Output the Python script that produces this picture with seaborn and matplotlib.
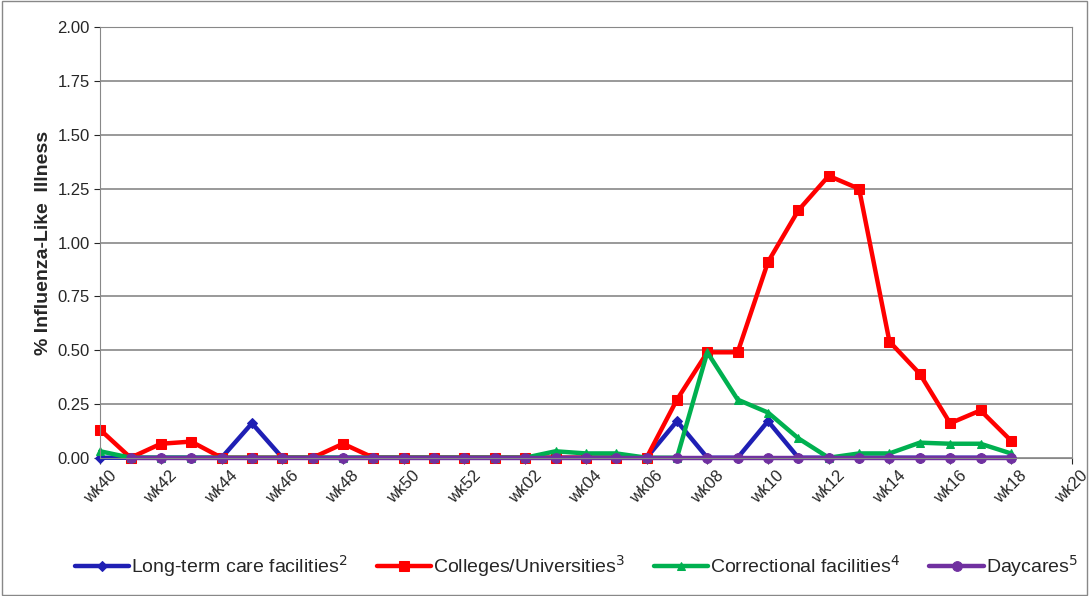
import numpy as np
import pandas as pd
import matplotlib
matplotlib.use("Agg")
import matplotlib.pyplot as plt
import seaborn as sns

weeks = [f"wk{w}" for w in range(40, 53)] + [f"wk{w:02d}" for w in range(1, 21)]
tick_labels = weeks[::2]

ltc = [0, 0, 0, 0, 0, 0.16, 0, 0, 0, 0, 0, 0, 0, 0, 0, 0, 0, 0, 0,
       0.17, 0, 0, 0.17, 0, 0, 0, 0, 0, 0, 0, 0]
college = [0.13, 0, 0.065, 0.075, 0, 0, 0, 0, 0.065, 0, 0, 0, 0, 0, 0, 0, 0, 0, 0,
           0.27, 0.49, 0.49, 0.91, 1.15, 1.31, 1.25, 0.54, 0.39, 0.16, 0.22, 0.08]
correctional = [0.03, 0, 0, 0, 0, 0, 0, 0, 0, 0, 0, 0, 0, 0, 0, 0.03, 0.02, 0.02, 0,
                0, 0.49, 0.27, 0.21, 0.09, 0, 0.02, 0.02, 0.07, 0.065, 0.065, 0.02]
daycare = [np.nan] + [0] * 30

sns.set_style("white")
plt.rcParams['font.family'] = ['Liberation Sans', 'DejaVu Sans']

fig = plt.figure(figsize=(10.89, 5.96), dpi=100)
ax = fig.add_axes([0.092, 0.232, 0.892, 0.722])
x = np.arange(len(college))

series = [
    ("Long-term care facilities$^{2}$", ltc, "#1f1fb4", "D", 5),
    ("Colleges/Universities$^{3}$", college, "#ff0000", "s", 7),
    ("Correctional facilities$^{4}$", correctional, "#00b050", "^", 6),
    ("Daycares$^{5}$", daycare, "#7030a0", "o", 7),
]
for name, vals, col, mk, ms in series:
    sns.lineplot(x=x, y=vals, ax=ax, color=col, marker=mk, markersize=ms,
                 markeredgecolor=col, linewidth=3.2, label=name, clip_on=False)

ax.set_xlim(0, 32)
ax.set_ylim(0, 2.0)
ax.set_yticks(np.arange(0, 2.01, 0.25))
ax.set_yticklabels([f"{v:.2f}" for v in np.arange(0, 2.01, 0.25)], fontsize=12)
ax.set_xticks(np.arange(0, 33, 2))
ax.set_xticklabels(tick_labels, rotation=45, fontsize=12)
ax.yaxis.grid(True, color="#888888", linewidth=1.2)
ax.xaxis.grid(False)
ax.tick_params(axis="both", length=4, direction="out", bottom=True, left=True)
for s in ax.spines.values():
    s.set_color("#888888")
ax.set_ylabel("% Influenza-Like  Illness", fontsize=14, fontweight="bold")

ax.legend(loc="upper center", bbox_to_anchor=(0.49, -0.18), ncol=4, frameon=False,
          fontsize=14, handlelength=2.8, handletextpad=0.1, columnspacing=1.5)

fig.patches.append(plt.Rectangle((0.002, 0.002), 0.996, 0.996, transform=fig.transFigure,
                                 fill=False, edgecolor="#888888", linewidth=1))
fig.savefig("out.png", dpi=100)
